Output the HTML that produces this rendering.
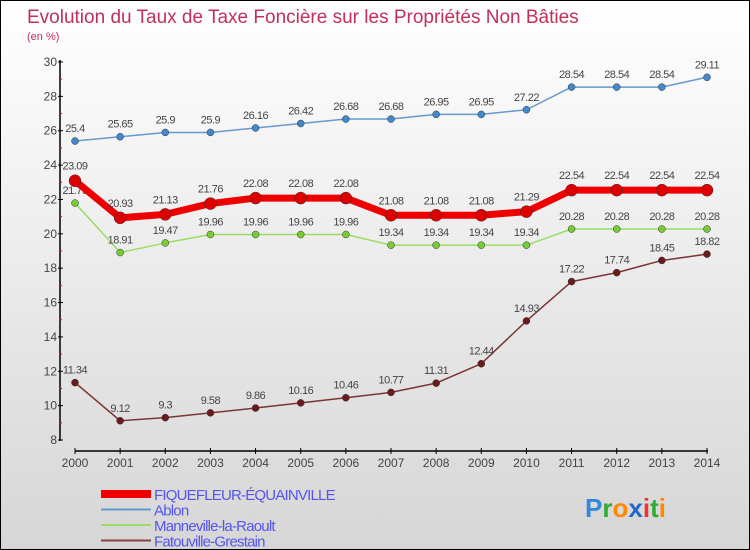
<!DOCTYPE html>
<html><head><meta charset="utf-8"><style>
body{margin:0}
#c{width:750px;height:550px;position:relative;box-sizing:border-box;border:1px solid #000;background:linear-gradient(#ffffff,#d6d6d6);font-family:"Liberation Sans",sans-serif;overflow:hidden}
</style></head><body>
<div id="c">
<svg id="s" width="748" height="548" style="position:absolute;left:0;top:0"></svg>
</div>
<script>
const years=[2000,2001,2002,2003,2004,2005,2006,2007,2008,2009,2010,2011,2012,2013,2014];
const fiquefleur=[23.09,20.93,21.13,21.76,22.08,22.08,22.08,21.08,21.08,21.08,21.29,22.54,22.54,22.54,22.54];
const ablon=[25.4,25.65,25.9,25.9,26.16,26.42,26.68,26.68,26.95,26.95,27.22,28.54,28.54,28.54,29.11];
const manneville=[21.79,18.91,19.47,19.96,19.96,19.96,19.96,19.34,19.34,19.34,19.34,20.28,20.28,20.28,20.28];
const fatouville=[11.34,9.12,9.3,9.58,9.86,10.16,10.46,10.77,11.31,12.44,14.93,17.22,17.74,18.45,18.82];
const yTicks=[8,10,12,14,16,18,20,22,24,26,28,30];
const names=["FIQUEFLEUR-ÉQUAINVILLE","Ablon","Manneville-la-Raoult","Fatouville-Grestain"];
const NS="http://www.w3.org/2000/svg",s=document.getElementById('s');
const X=i=>74+i*(632/14), Y=v=>439-(v-8)*(378/22);
function el(t,a,p){const e=document.createElementNS(NS,t);for(const k in a)e.setAttribute(k,a[k]);(p||s).appendChild(e);return e;}
function tx(x,y,str,a){const e=el('text',Object.assign({x:x,y:y},a));e.textContent=str;return e;}
let t=tx(26,22,"Evolution du Taux de Taxe Foncière sur les Propriétés Non Bâties",{fill:"#c0305a","font-size":"19"});

t=tx(26,39,"(en %)",{fill:"#c0305a","font-size":"11"});

// axes
let a=el('line',{x1:59,y1:59,x2:59,y2:440,stroke:"#000","stroke-width":1.5});

a=el('line',{x1:74,y1:450,x2:707,y2:450,stroke:"#000","stroke-width":1.5});

yTicks.forEach((v,i)=>{
 el('line',{x1:57,y1:Y(v),x2:62,y2:Y(v),stroke:"#000"});
 if(i<yTicks.length-1)el('line',{x1:58,y1:Y(v+1),x2:61,y2:Y(v+1),stroke:"#e00"});
 const l=tx(56,Y(v)+4,String(v),{"text-anchor":"end","font-size":"12",fill:"#444"});
 
});
years.forEach((y,i)=>{
 el('line',{x1:X(i),y1:447,x2:X(i),y2:453,stroke:"#000"});
 const l=tx(X(i),466,String(y),{"text-anchor":"middle","font-size":"12",fill:"#444"});
 
});
function series(data,color,w,r,dot,name,labelDy){
 const g=el('g',{});
 
 const p=el('polyline',{points:data.map((v,i)=>X(i)+','+Y(v)).join(' '),fill:"none",stroke:color,"stroke-width":w,"stroke-linejoin":"round"},g);
 data.forEach((v,i)=>{
  const c=el('circle',{cx:X(i),cy:Y(v),r:r,fill:dot,stroke:"#333","stroke-width":0.5},g);
  
  const l=tx(X(i),Y(v)+labelDy,String(v),{"text-anchor":"middle","font-size":"11",fill:"#444","letter-spacing":"-0.5"},g);
  
 });
}
series(fatouville,"#7a3535",1.5,3.5,"#6a1a1a","fatouville-series",-9);
series(manneville,"#99dd66",1.5,3.5,"#77cc33","manneville-series",-9);
series(ablon,"#6699cc",1.5,3.5,"#4488cc","ablon-series",-9);
series(fiquefleur,"#ee0000",7,6,"#dd0000","fiquefleur-series",-11);
// legend
const lc=["#ee0000","#6699cc","#99dd66","#884444"],lw=[8,2,2,2];
names.forEach((n,i)=>{
 const g=el('g',{});
 
 const y=493+i*15.5;
 el('line',{x1:100,y1:y,x2:150,y2:y,stroke:lc[i],"stroke-width":lw[i]},g);
 tx(153,y+6,n,{"font-size":"15",fill:"#5555ee","letter-spacing":"-0.8"},g);
});
// logo
const lg=el('text',{x:584,y:516,"font-size":"26","font-weight":"bold"});

[["P","#3388dd"],["r","#33aa33"],["o","#ff8800"],["x","#2266cc"],["i","#ee3333"],["t","#33aa33"],["i","#ff8800"]].forEach(([c,f])=>{const ts=el('tspan',{fill:f},lg);ts.textContent=c;});
</script>
</body></html>
